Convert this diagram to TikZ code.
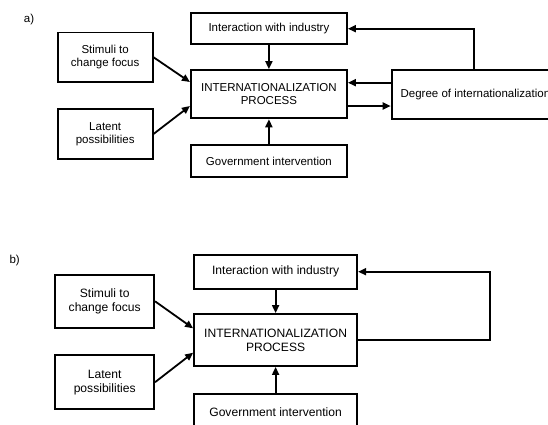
\documentclass[tikz,border=0pt]{standalone}
\usepackage{fontspec}
\setmainfont{Liberation Sans}
\usetikzlibrary{arrows.meta}
\begin{document}
\begin{tikzpicture}[x=1pt,y=-1pt,
  box/.style={draw,line width=1.8pt,inner sep=0pt,align=center,font=\fontsize{11.5}{13.3}\selectfont},
  boxb/.style={box,font=\fontsize{12.1}{14}\selectfont},
  arr/.style={line width=1.8pt,-{Triangle[length=8pt,width=7pt]}},
  lab/.style={font=\fontsize{11.5}{13.3}\selectfont}]
\useasboundingbox[clip] (0,0) rectangle (548,424);
% ---- a) ----
\node[lab] (la) at (29,20) {a)};
\node[box,minimum width=156.2pt,minimum height=30.7pt] (inter_a) at (268.9,28.7) {Interaction with industry};
\node[box,minimum width=95pt,minimum height=49.7pt] (stim_a) at (105.2,57.3) {Stimuli to\\change focus};
\node[box,minimum width=156.2pt,minimum height=48.3pt] (proc_a) at (268.9,94.2) {INTERNATIONALIZATION\\PROCESS};
\node[box,minimum width=95pt,minimum height=49.7pt] (lat_a) at (105.2,133.9) {Latent\\possibilities};
\node[box,minimum width=156.2pt,minimum height=32.3pt] (gov_a) at (268.9,161.2) {Government intervention};
\node[box,anchor=west,inner xsep=9pt,minimum height=49.3pt] (deg_a) at (390.7,94.7) {Degree of internationalization};
\draw[arr] (inter_a.south) -- (proc_a.north);
\draw[arr] (gov_a.north) -- (proc_a.south);
\draw[arr] (stim_a.east) -- ([yshift=12.2pt]proc_a.west);
\draw[arr] (lat_a.east) -- ([yshift=-11.8pt]proc_a.west);
\draw[arr] ([yshift=12pt]deg_a.west) -- ([yshift=11.5pt]proc_a.east);
\draw[arr] ([yshift=-11.8pt]proc_a.east) -- ([yshift=-11.3pt]deg_a.west);
\draw[arr] ([xshift=83.6pt]deg_a.north west) |- (inter_a.east);
% ---- b) ----
\node[lab] (lb) at (14.7,261) {b)};
\node[boxb,minimum width=163.2pt,minimum height=34pt] (inter_b) at (275.6,271.7) {Interaction with industry};
\node[boxb,minimum width=98.9pt,minimum height=52.7pt] (stim_b) at (104.7,301.3) {Stimuli to\\change focus};
\node[boxb,minimum width=163.2pt,minimum height=52pt] (proc_b) at (275.6,340) {INTERNATIONALIZATION\\PROCESS};
\node[boxb,minimum width=98.9pt,minimum height=53.7pt] (lat_b) at (104.7,382.2) {Latent\\possibilities};
\node[boxb,minimum width=163.2pt,minimum height=36pt] (gov_b) at (275.6,412) {Government intervention};
\coordinate (fb_b) at (490.3,340);
\draw[arr] (inter_b.south) -- (proc_b.north);
\draw[arr] (gov_b.north) -- (proc_b.south);
\draw[arr] (stim_b.east) -- ([yshift=11.7pt]proc_b.west);
\draw[arr] (lat_b.east) -- ([yshift=-12.7pt]proc_b.west);
\draw[arr] (proc_b.east) -- (fb_b) |- (inter_b.east);
\end{tikzpicture}
\end{document}
